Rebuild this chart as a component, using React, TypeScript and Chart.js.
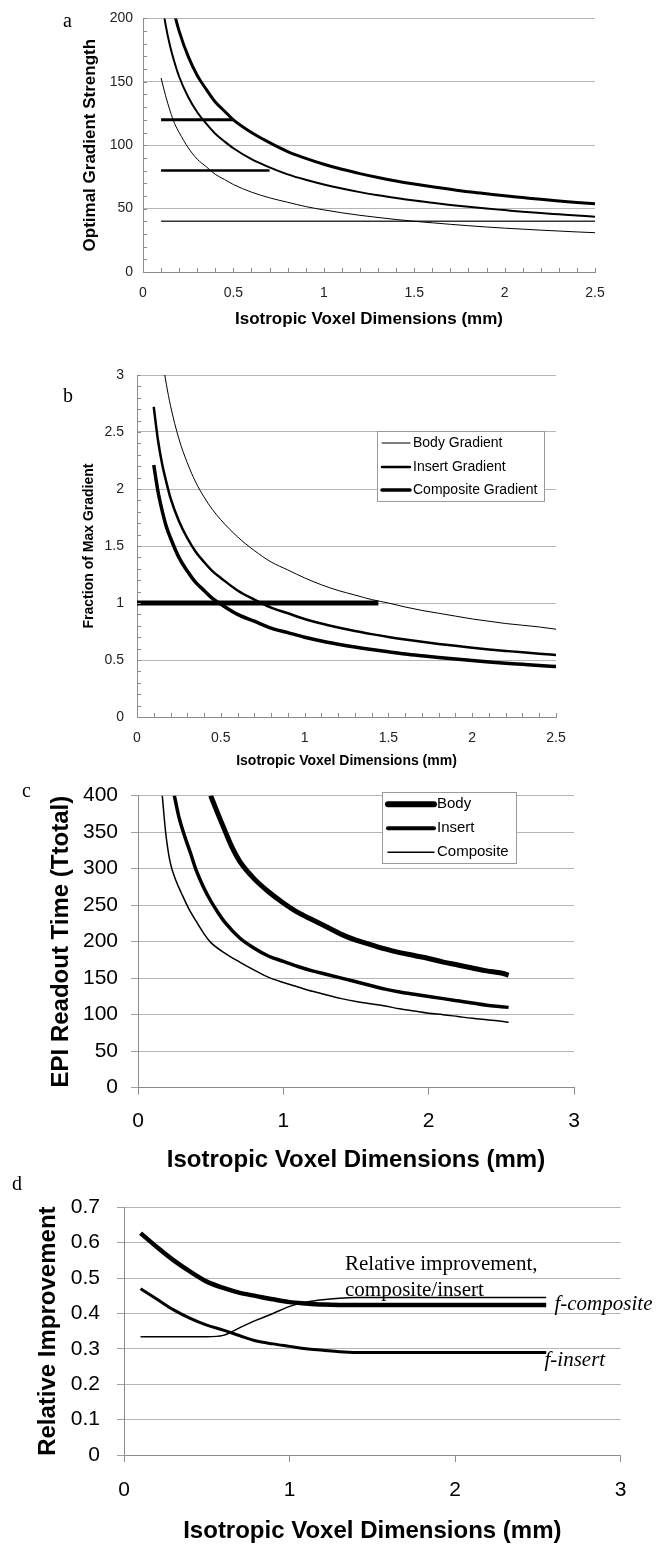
import React, { useEffect, useRef } from "react";
import { Chart, registerables } from "chart.js";
Chart.register(...registerables);

const SANS = "'Liberation Sans', Arial, Helvetica, sans-serif";
const SERIF = "'Liberation Serif', 'Times New Roman', serif";

// ---------- Panel a: optimal gradient strength ----------
const A_X = [0.1, 0.125, 0.15, 0.175, 0.2, 0.25, 0.3, 0.35, 0.4, 0.45, 0.5, 0.6, 0.7, 0.8, 0.9, 1.0, 1.1, 1.2, 1.3, 1.4, 1.5, 1.6, 1.7, 1.8, 1.9, 2.0, 2.1, 2.2, 2.3, 2.4, 2.5];
const A_BODY = [153, 139, 127, 117, 110, 98, 89, 83, 77, 73, 69, 63, 58.5, 55, 51.6, 49, 46.7, 44.7, 43, 41.4, 40, 38.8, 37.6, 36.5, 35.5, 34.6, 33.8, 33, 32.3, 31.6, 31];
const A_INSERT = [218, 195, 178, 165, 154, 138, 126, 117, 109, 103, 97.6, 89, 82.5, 77, 72.7, 69, 65.8, 63, 60.5, 58.3, 56.3, 54.6, 52.9, 51.4, 50, 48.8, 47.6, 46.5, 45.5, 44.5, 43.6];
const A_COMPOSITE = [269, 240, 219, 203, 190, 170, 155, 144, 134, 127, 120, 110, 102, 95, 89.6, 85, 81, 77.6, 74.5, 71.8, 69.4, 67.2, 65.2, 63.3, 61.7, 60.1, 58.7, 57.3, 56, 54.9, 53.8];
const A_LIMIT_LEVELS = [120, 80, 40];
const A_LIMIT_START = 0.1;
const A_LIMIT_END = [0.5, 0.7, 2.5];

// ---------- Panel b: fraction of max gradient ----------
const B_X = [0.1, 0.125, 0.15, 0.175, 0.2, 0.25, 0.3, 0.35, 0.4, 0.45, 0.5, 0.6, 0.7, 0.8, 0.9, 1.0, 1.1, 1.2, 1.3, 1.4, 1.5, 1.6, 1.7, 1.8, 1.9, 2.0, 2.1, 2.2, 2.3, 2.4, 2.5];
const B_BODY = [3.86, 3.45, 3.15, 2.92, 2.73, 2.44, 2.23, 2.06, 1.93, 1.82, 1.73, 1.58, 1.46, 1.36, 1.29, 1.22, 1.16, 1.11, 1.07, 1.03, 1.0, 0.965, 0.935, 0.91, 0.885, 0.86, 0.84, 0.82, 0.805, 0.79, 0.77];
const B_INSERT = [2.72, 2.43, 2.22, 2.06, 1.92, 1.72, 1.57, 1.45, 1.36, 1.28, 1.22, 1.11, 1.03, 0.96, 0.91, 0.86, 0.82, 0.785, 0.754, 0.727, 0.702, 0.68, 0.66, 0.641, 0.624, 0.608, 0.593, 0.58, 0.567, 0.555, 0.544];
const B_COMPOSITE = [2.21, 1.98, 1.81, 1.67, 1.57, 1.4, 1.28, 1.18, 1.11, 1.04, 0.99, 0.9, 0.84, 0.78, 0.74, 0.7, 0.667, 0.639, 0.614, 0.592, 0.572, 0.553, 0.537, 0.522, 0.508, 0.495, 0.483, 0.472, 0.462, 0.452, 0.443];
const B_LIMIT_LEVEL = 1;
const B_LIMIT_RANGE = [0, 1.44];
const B_LABELS = ["Body Gradient", "Insert Gradient", "Composite Gradient"];

// ---------- Panel c: EPI readout time ----------
const C_BODY_X = [0.5, 0.55, 0.6, 0.65, 0.7, 0.8, 0.9, 1.0, 1.1, 1.2, 1.3, 1.4, 1.5, 1.6, 1.7, 1.8, 1.9, 2.0, 2.1, 2.2, 2.3, 2.4, 2.5, 2.55];
const C_BODY = [400, 375, 351, 328, 310, 286, 268, 253, 240, 230, 220, 210, 202, 196, 190, 185, 181, 177, 172, 168, 164, 160, 157, 154];
const C_INSERT_X = [0.25, 0.28, 0.32, 0.36, 0.4, 0.45, 0.5, 0.55, 0.6, 0.7, 0.8, 0.9, 1.0, 1.1, 1.2, 1.3, 1.4, 1.5, 1.6, 1.7, 1.8, 1.9, 2.0, 2.1, 2.2, 2.3, 2.4, 2.5, 2.55];
const C_INSERT = [400, 372, 345, 322, 298, 275, 256, 240, 226, 205, 191, 180, 173, 166, 160, 155, 150, 145, 140, 135, 131, 128, 125, 122, 119, 116, 113, 111, 110];
const C_COMP_X = [0.167, 0.19, 0.22, 0.26, 0.3, 0.35, 0.4, 0.45, 0.5, 0.6, 0.7, 0.8, 0.9, 1.0, 1.1, 1.2, 1.3, 1.4, 1.5, 1.6, 1.7, 1.8, 1.9, 2.0, 2.1, 2.2, 2.3, 2.4, 2.5, 2.55];
const C_COMP = [400, 350, 310, 284, 266, 245, 228, 212, 199, 184, 172, 161, 151, 144, 138, 132, 127, 122, 118, 115, 112, 108, 105, 102, 100, 97.5, 95, 93, 91, 89.5];
const C_LABELS = ["Body", "Insert", "Composite"];

// ---------- Panel d: relative improvement ----------
const D_X = [0.1, 0.2, 0.3, 0.4, 0.5, 0.6, 0.7, 0.8, 0.9, 1.0, 1.1, 1.2, 1.3, 1.4, 1.5, 1.6, 1.7, 1.8, 1.9, 2.0, 2.1, 2.2, 2.3, 2.4, 2.5, 2.55];
const D_COMPOSITE = [0.627, 0.587, 0.55, 0.518, 0.49, 0.472, 0.458, 0.449, 0.44, 0.432, 0.428, 0.425, 0.424, 0.424, 0.424, 0.424, 0.424, 0.424, 0.424, 0.424, 0.424, 0.424, 0.424, 0.424, 0.424, 0.424];
const D_INSERT = [0.47, 0.44, 0.41, 0.386, 0.367, 0.353, 0.337, 0.322, 0.314, 0.307, 0.3, 0.296, 0.292, 0.29, 0.29, 0.29, 0.29, 0.29, 0.29, 0.29, 0.29, 0.29, 0.29, 0.29, 0.29, 0.29];
const D_RELATIVE = [0.334, 0.334, 0.334, 0.334, 0.334, 0.338, 0.36, 0.381, 0.4, 0.42, 0.432, 0.439, 0.443, 0.445, 0.445, 0.445, 0.445, 0.445, 0.445, 0.445, 0.445, 0.445, 0.445, 0.445, 0.445, 0.445];
const D_NOTES = [
  { text: "Relative improvement,", x: 1.335, y: 0.537, italic: false },
  { text: "composite/insert", x: 1.335, y: 0.466, italic: false },
  { text: "f-composite", x: 2.6, y: 0.424, italic: true },
  { text: "f-insert", x: 2.54, y: 0.268, italic: true },
];

const X_TITLE = "Isotropic Voxel Dimensions (mm)";

// ---------- helpers ----------
const pts = (xs: number[], ys: number[]) => xs.map((x, i) => ({ x, y: ys[i] }));
const fmt = (v: any) => String(Math.round(Number(v) * 1000) / 1000);

function line(label: string, data: any[], width: number, color = "#000", smooth = true) {
  return {
    label,
    data,
    showLine: true,
    borderColor: color,
    backgroundColor: color,
    borderWidth: width,
    pointRadius: 0,
    pointHoverRadius: 0,
    fill: false,
    tension: 0,
    cubicInterpolationMode: smooth ? "monotone" : "default",
    borderJoinStyle: "round",
    borderCapStyle: "butt",
  };
}

function xAxis(o: any) {
  return {
    type: "linear",
    position: "bottom",
    min: o.min,
    max: o.max,
    ticks: {
      stepSize: o.step,
      padding: o.pad,
      color: o.color,
      font: { family: SANS, size: o.font },
      callback: (v: any) => fmt(v),
      maxRotation: 0,
      autoSkip: false,
    },
    grid: o.tickLen
      ? { display: true, drawOnChartArea: false, drawTicks: true, tickLength: o.tickLen, color: "#8c8c8c", tickColor: "#8c8c8c" }
      : { display: false, drawTicks: false, tickLength: 0 },
    border: { display: true, color: "#8c8c8c", width: 1 },
    title: { display: true, text: X_TITLE, color: "#000", padding: 0, font: { family: SANS, size: o.titleSize, weight: "bold" } },
    afterFit: (s: any) => {
      s.height = o.size;
    },
  };
}

function yAxis(o: any) {
  return {
    type: "linear",
    position: "left",
    min: o.min,
    max: o.max,
    ticks: {
      stepSize: o.step,
      padding: o.pad,
      color: o.color,
      font: { family: SANS, size: o.font },
      callback: (v: any) => fmt(v),
      autoSkip: false,
    },
    grid: {
      display: true,
      drawTicks: !!o.tickLen,
      tickLength: o.tickLen || 0,
      color: "#b5b5b5",
      tickColor: "#a0a0a0",
      lineWidth: 1,
    },
    border: { display: true, color: "#8c8c8c", width: 1 },
    title: { display: true, text: o.title, color: "#000", padding: 0, font: { family: SANS, size: o.titleSize, weight: "bold" } },
    afterFit: (s: any) => {
      s.width = o.size;
    },
  };
}

function base(padding: any) {
  return {
    responsive: false,
    maintainAspectRatio: false,
    animation: false,
    devicePixelRatio: 1,
    events: [],
    layout: { padding },
    plugins: { legend: { display: false }, tooltip: { enabled: false }, title: { display: false } },
  };
}

function extras(ex: any) {
  return {
    id: "extras",
    afterDraw(chart: any) {
      const { ctx, chartArea: ca, scales } = chart;
      const xs = scales.x;
      const ys = scales.y;
      ctx.save();
      if (ex.minor) {
        const m = ex.minor;
        ctx.strokeStyle = m.color;
        ctx.lineWidth = 1;
        ctx.beginPath();
        const nx = Math.round((xs.max - xs.min) / m.xStep);
        for (let i = 0; i <= nx; i++) {
          const px = Math.round(xs.getPixelForValue(xs.min + i * m.xStep)) + 0.5;
          ctx.moveTo(px, ca.bottom);
          ctx.lineTo(px, ca.bottom - m.len);
        }
        const ny = Math.round((ys.max - ys.min) / m.yStep);
        for (let i = 0; i <= ny; i++) {
          const py = Math.round(ys.getPixelForValue(ys.min + i * m.yStep)) + 0.5;
          ctx.moveTo(ca.left, py);
          ctx.lineTo(ca.left + m.len, py);
        }
        ctx.stroke();
      }
      if (ex.legend) {
        const L = ex.legend;
        ctx.fillStyle = "#fff";
        ctx.fillRect(L.x, L.y, L.w, L.h);
        ctx.strokeStyle = "#9a9a9a";
        ctx.lineWidth = 1;
        ctx.strokeRect(Math.round(L.x) + 0.5, Math.round(L.y) + 0.5, L.w, L.h);
        ctx.font = `${L.size}px ${SANS}`;
        ctx.textBaseline = "middle";
        ctx.textAlign = "left";
        L.items.forEach((idx: number, i: number) => {
          const ds = chart.data.datasets[idx];
          const y = L.rowY[i];
          ctx.strokeStyle = ds.borderColor;
          ctx.lineWidth = L.widths ? L.widths[i] : ds.borderWidth;
          ctx.lineCap = "round";
          ctx.beginPath();
          ctx.moveTo(L.lineX0, y);
          ctx.lineTo(L.lineX1, y);
          ctx.stroke();
          ctx.fillStyle = "#000";
          ctx.fillText(ds.label, L.textX, y);
        });
      }
      if (ex.notes) {
        ctx.fillStyle = "#000";
        ctx.textBaseline = "middle";
        ctx.textAlign = "left";
        ex.notes.forEach((n: any) => {
          ctx.font = `${n.italic ? "italic " : ""}${ex.noteSize}px ${SERIF}`;
          ctx.fillText(n.text, xs.getPixelForValue(n.x), ys.getPixelForValue(n.y));
        });
      }
      ctx.restore();
    },
  };
}

// ---------- chart builders ----------
const makeA = () => ({
  type: "scatter",
  data: {
    datasets: [
      line("Body", pts(A_X, A_BODY), 1),
      line("Insert", pts(A_X, A_INSERT), 2),
      line("Composite", pts(A_X, A_COMPOSITE), 3),
      line("Composite limit", pts([A_LIMIT_START, A_LIMIT_END[0]], [A_LIMIT_LEVELS[0], A_LIMIT_LEVELS[0]]), 3, "#000", false),
      line("Insert limit", pts([A_LIMIT_START, A_LIMIT_END[1]], [A_LIMIT_LEVELS[1], A_LIMIT_LEVELS[1]]), 2.5, "#000", false),
      line("Body limit", pts([A_LIMIT_START, A_LIMIT_END[2]], [A_LIMIT_LEVELS[2], A_LIMIT_LEVELS[2]]), 1.5, "#333", false),
    ],
  },
  options: {
    ...base({ left: 79.8, top: 15, right: 63, bottom: 10.8 }),
    scales: {
      x: xAxis({ min: 0, max: 2.5, step: 0.5, pad: 12.6, color: "#222", font: 14, titleSize: 17, size: 57.2 }),
      y: yAxis({ min: 0, max: 200, step: 50, pad: 10, color: "#222", font: 14, title: "Optimal Gradient Strength", titleSize: 17, size: 63.2 }),
    },
  },
  plugins: [extras({ minor: { xStep: 0.1, yStep: 10, len: 4, color: "#8c8c8c" } })],
});

const makeB = () => ({
  type: "scatter",
  data: {
    datasets: [
      line(B_LABELS[0], pts(B_X, B_BODY), 1),
      line(B_LABELS[1], pts(B_X, B_INSERT), 2.5),
      line(B_LABELS[2], pts(B_X, B_COMPOSITE), 3.5),
      line("Max gradient", pts(B_LIMIT_RANGE, [B_LIMIT_LEVEL, B_LIMIT_LEVEL]), 5, "#000", false),
    ],
  },
  options: {
    ...base({ left: 80.6, top: 35, right: 102, bottom: 5.6 }),
    scales: {
      x: xAxis({ min: 0, max: 2.5, step: 0.5, pad: 12.6, color: "#222", font: 14, titleSize: 14, size: 52.4 }),
      y: yAxis({ min: 0, max: 3, step: 0.5, pad: 13, color: "#222", font: 14, title: "Fraction of Max Gradient", titleSize: 14, size: 56.4 }),
    },
  },
  plugins: [
    extras({
      minor: { xStep: 0.1, yStep: 0.1, len: 4, color: "#8c8c8c" },
      legend: { x: 377, y: 91, w: 167, h: 70, size: 14, rowY: [103, 127, 150], lineX0: 382, lineX1: 410, textX: 413, items: [0, 1, 2] },
    }),
  ],
});

const makeC = () => ({
  type: "scatter",
  data: {
    datasets: [
      line(C_LABELS[0], pts(C_BODY_X, C_BODY), 5),
      line(C_LABELS[1], pts(C_INSERT_X, C_INSERT), 3.5),
      line(C_LABELS[2], pts(C_COMP_X, C_COMP), 1.5),
    ],
  },
  options: {
    ...base({ left: 46.6, top: 22.7, right: 84, bottom: 5.6 }),
    scales: {
      x: xAxis({ min: 0, max: 3, step: 1, pad: 14.4, tickLen: 7, color: "#000", font: 21, titleSize: 24, size: 86.7 }),
      y: yAxis({ min: 0, max: 400, step: 50, pad: 13, tickLen: 7, color: "#000", font: 21, title: "EPI Readout Time (Ttotal)", titleSize: 24, size: 91.4 }),
    },
  },
  plugins: [
    extras({
      legend: { x: 382, y: 22.3, w: 134, h: 71, size: 15, rowY: [34.3, 58.3, 82.3], lineX0: 388, lineX1: 434, textX: 437, items: [0, 1, 2], widths: [6, 4, 1.5] },
    }),
  ],
});

const makeD = () => ({
  type: "scatter",
  data: {
    datasets: [
      line("f-composite", pts(D_X, D_COMPOSITE), 4.5),
      line("f-insert", pts(D_X, D_INSERT), 3),
      line("Relative improvement, composite/insert", pts(D_X, D_RELATIVE), 1.5),
    ],
  },
  options: {
    ...base({ left: 33.6, top: 37.3, right: 37.3, bottom: 0.9 }),
    scales: {
      x: xAxis({ min: 0, max: 3, step: 1, pad: 15.4, tickLen: 7, color: "#000", font: 21, titleSize: 24, size: 91.1 }),
      y: yAxis({ min: 0, max: 0.7, step: 0.1, pad: 17, tickLen: 7, color: "#000", font: 21, title: "Relative Improvement", titleSize: 24, size: 90.4 }),
    },
  },
  plugins: [extras({ notes: D_NOTES, noteSize: 21 })],
});

function ChartPanel({ top, height, make }: { top: number; height: number; make: () => any }) {
  const ref = useRef<HTMLCanvasElement | null>(null);
  useEffect(() => {
    if (!ref.current) return;
    const chart = new Chart(ref.current, make() as any);
    return () => chart.destroy();
  }, []);
  return (
    <canvas
      ref={ref}
      width={658}
      height={height}
      style={{ position: "absolute", left: 0, top, width: 658, height, display: "block" }}
    />
  );
}

const letterStyle = (left: number, top: number): React.CSSProperties => ({
  position: "absolute",
  left,
  top,
  fontFamily: SERIF,
  fontSize: 20,
  lineHeight: "20px",
  color: "#000",
});

export default function App() {
  return (
    <div style={{ position: "absolute", left: 0, top: 0, width: 658, height: 1547, background: "#fff", overflow: "hidden" }}>
      <ChartPanel top={0} height={340} make={makeA} />
      <ChartPanel top={340} height={435} make={makeB} />
      <ChartPanel top={770} height={410} make={makeC} />
      <ChartPanel top={1170} height={377} make={makeD} />
      <div style={letterStyle(63, 10)}>a</div>
      <div style={letterStyle(63, 385)}>b</div>
      <div style={letterStyle(22, 780)}>c</div>
      <div style={letterStyle(12, 1173)}>d</div>
    </div>
  );
}
